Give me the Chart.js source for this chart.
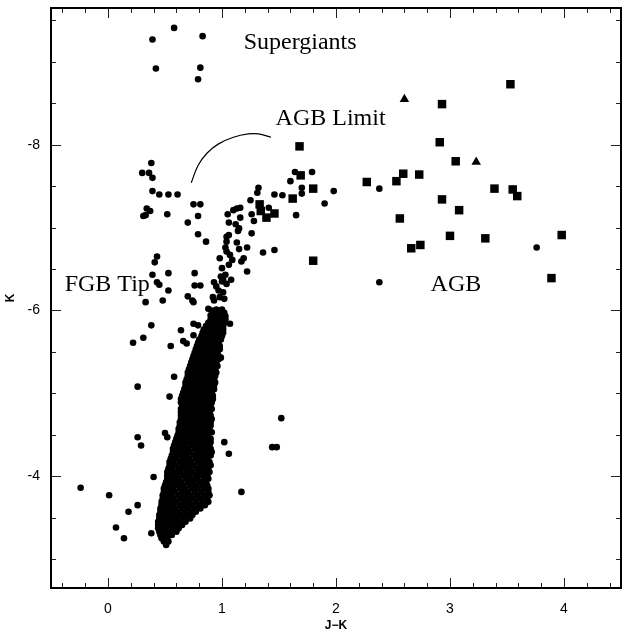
<!DOCTYPE html>
<html>
<head>
<meta charset="utf-8">
<script src="https://cdn.jsdelivr.net/npm/chart.js@4.4.1/dist/chart.umd.min.js"></script>
<style>
  body { margin: 0; background: #fff; }
  #wrap { width: 627px; height: 633px; }
</style>
</head>
<body>
<div id="wrap"><canvas id="cmd" width="627" height="633"></canvas></div>
<script>
// tick labels
const xTickValues = [0, 1, 2, 3, 4];
const yTickValues = [-8, -6, -4];

// dense red giant branch, read row by row: [K, [J-K values]]
const rgbRows = [
  [-3.21, [0.49, 0.53]],
  [-3.25, [0.47, 0.52]],
  [-3.29, [0.46, 0.51, 0.56]],
  [-3.33, [0.45, 0.50, 0.55, 0.60]],
  [-3.37, [0.44, 0.47, 0.52, 0.57, 0.62]],
  [-3.41, [0.44, 0.49, 0.54, 0.59, 0.65]],
  [-3.45, [0.44, 0.47, 0.52, 0.57, 0.62, 0.68]],
  [-3.49, [0.45, 0.50, 0.55, 0.60, 0.66, 0.72]],
  [-3.53, [0.45, 0.48, 0.53, 0.58, 0.63, 0.69, 0.74]],
  [-3.57, [0.46, 0.51, 0.56, 0.61, 0.67, 0.73, 0.77]],
  [-3.61, [0.46, 0.49, 0.54, 0.59, 0.65, 0.70, 0.76, 0.81]],
  [-3.65, [0.47, 0.52, 0.57, 0.63, 0.68, 0.74, 0.80, 0.85]],
  [-3.69, [0.47, 0.50, 0.55, 0.60, 0.66, 0.71, 0.77, 0.83, 0.88]],
  [-3.73, [0.48, 0.53, 0.58, 0.64, 0.69, 0.75, 0.81, 0.87]],
  [-3.77, [0.48, 0.51, 0.56, 0.62, 0.67, 0.72, 0.78, 0.84, 0.89]],
  [-3.81, [0.49, 0.54, 0.59, 0.65, 0.70, 0.76, 0.82, 0.88]],
  [-3.85, [0.49, 0.52, 0.57, 0.63, 0.68, 0.74, 0.79, 0.85, 0.88]],
  [-3.89, [0.50, 0.55, 0.61, 0.66, 0.72, 0.77, 0.83, 0.87]],
  [-3.93, [0.51, 0.54, 0.59, 0.64, 0.70, 0.75, 0.81, 0.86]],
  [-3.97, [0.52, 0.57, 0.62, 0.68, 0.73, 0.78, 0.84, 0.88]],
  [-4.01, [0.52, 0.55, 0.60, 0.66, 0.71, 0.77, 0.82, 0.87]],
  [-4.05, [0.52, 0.58, 0.63, 0.69, 0.74, 0.80, 0.85, 0.89]],
  [-4.09, [0.53, 0.56, 0.62, 0.67, 0.72, 0.78, 0.83, 0.88]],
  [-4.13, [0.54, 0.59, 0.65, 0.70, 0.75, 0.81, 0.86, 0.90]],
  [-4.17, [0.54, 0.57, 0.63, 0.68, 0.73, 0.79, 0.84, 0.89]],
  [-4.21, [0.55, 0.60, 0.66, 0.71, 0.77, 0.82, 0.87]],
  [-4.25, [0.56, 0.59, 0.64, 0.69, 0.75, 0.80, 0.85, 0.90]],
  [-4.29, [0.57, 0.62, 0.67, 0.72, 0.78, 0.83, 0.88, 0.91]],
  [-4.33, [0.57, 0.60, 0.65, 0.70, 0.76, 0.81, 0.86, 0.90]],
  [-4.37, [0.58, 0.63, 0.68, 0.74, 0.79, 0.84, 0.89]],
  [-4.41, [0.59, 0.62, 0.67, 0.72, 0.77, 0.82, 0.87, 0.90]],
  [-4.45, [0.60, 0.65, 0.70, 0.75, 0.80, 0.85, 0.90]],
  [-4.49, [0.61, 0.64, 0.69, 0.74, 0.79, 0.84, 0.88]],
  [-4.53, [0.62, 0.66, 0.71, 0.76, 0.81, 0.86, 0.91]],
  [-4.57, [0.62, 0.65, 0.70, 0.75, 0.80, 0.85, 0.89]],
  [-4.61, [0.63, 0.67, 0.72, 0.77, 0.82, 0.87, 0.90]],
  [-4.65, [0.63, 0.66, 0.71, 0.76, 0.81, 0.86, 0.90]],
  [-4.69, [0.64, 0.68, 0.73, 0.78, 0.83, 0.88, 0.91]],
  [-4.73, [0.64, 0.67, 0.72, 0.77, 0.82, 0.87, 0.90]],
  [-4.77, [0.64, 0.69, 0.74, 0.79, 0.84, 0.89]],
  [-4.81, [0.64, 0.67, 0.72, 0.77, 0.82, 0.87, 0.91]],
  [-4.85, [0.65, 0.70, 0.75, 0.80, 0.85, 0.90]],
  [-4.89, [0.64, 0.67, 0.72, 0.77, 0.82, 0.87, 0.91]],
  [-4.93, [0.64, 0.69, 0.74, 0.79, 0.84, 0.89, 0.92]],
  [-4.97, [0.65, 0.68, 0.73, 0.78, 0.83, 0.88, 0.92]],
  [-5.01, [0.66, 0.71, 0.76, 0.81, 0.86, 0.91]],
  [-5.05, [0.67, 0.70, 0.75, 0.80, 0.85, 0.90, 0.93]],
  [-5.09, [0.68, 0.73, 0.78, 0.83, 0.88, 0.93]],
  [-5.13, [0.68, 0.71, 0.76, 0.81, 0.86, 0.91, 0.94]],
  [-5.17, [0.69, 0.74, 0.79, 0.84, 0.89, 0.93]],
  [-5.21, [0.70, 0.72, 0.77, 0.82, 0.87, 0.92, 0.94]],
  [-5.25, [0.70, 0.75, 0.80, 0.85, 0.90, 0.95]],
  [-5.29, [0.71, 0.74, 0.79, 0.84, 0.89, 0.94]],
  [-5.33, [0.72, 0.77, 0.82, 0.87, 0.92, 0.96]],
  [-5.37, [0.73, 0.76, 0.81, 0.86, 0.91, 0.95]],
  [-5.41, [0.74, 0.79, 0.84, 0.89, 0.94, 0.97]],
  [-5.45, [0.75, 0.78, 0.83, 0.88, 0.93, 0.97]],
  [-5.49, [0.76, 0.81, 0.86, 0.91, 0.96]],
  [-5.53, [0.77, 0.80, 0.85, 0.90, 0.95, 0.98]],
  [-5.57, [0.78, 0.83, 0.88, 0.93, 0.98]],
  [-5.61, [0.79, 0.82, 0.87, 0.92, 0.97]],
  [-5.65, [0.80, 0.85, 0.90, 0.95, 0.99]],
  [-5.69, [0.82, 0.85, 0.90, 0.95, 1.00]],
  [-5.73, [0.83, 0.88, 0.93, 0.98, 1.01]],
  [-5.77, [0.84, 0.88, 0.93, 0.98, 1.01]],
  [-5.81, [0.86, 0.91, 0.96, 1.01]],
  [-5.85, [0.88, 0.93, 0.98, 1.02]],
  [-5.89, [0.90, 0.95, 1.00, 1.03]],
  [-5.93, [0.91, 0.96, 1.00, 1.03]],
  [-5.97, [0.93, 0.98, 1.02]],
  [-6.01, [0.95, 1.00]]
];

// individual stars (dots): [J-K, K]
const dotStars = [
  [0.58, -9.41], [0.39, -9.27], [0.83, -9.31], [0.42, -8.92], [0.81, -8.93], [0.79, -8.79],
  [0.38, -7.78], [0.30, -7.66], [0.36, -7.66], [0.39, -7.60], [0.39, -7.44], [0.45, -7.40],
  [0.53, -7.40], [0.61, -7.40], [0.34, -7.23], [0.37, -7.20], [0.31, -7.14], [0.33, -7.15],
  [0.52, -7.16], [0.75, -7.28], [0.81, -7.28], [0.79, -7.14], [0.70, -7.06], [0.79, -6.92],
  [0.86, -6.83], [0.76, -6.45], [0.76, -6.30], [0.81, -6.30], [0.70, -6.17], [0.74, -6.12],
  [0.75, -6.10], [0.43, -6.65], [0.41, -6.58], [0.39, -6.43], [0.53, -6.45], [0.43, -6.34],
  [0.45, -6.31], [0.53, -6.24], [0.33, -6.10], [0.48, -6.12],
  [0.38, -5.82], [0.31, -5.67], [0.22, -5.61], [0.55, -5.57], [0.64, -5.76], [0.75, -5.84],
  [0.79, -5.82], [0.75, -5.70], [0.66, -5.63], [0.69, -5.60], [0.58, -5.20], [0.54, -4.96],
  [0.26, -5.08], [0.26, -4.47], [0.29, -4.37], [0.50, -4.52], [0.52, -4.47], [0.40, -3.99],
  [-0.24, -3.86], [0.01, -3.77], [0.18, -3.57], [0.26, -3.65], [0.07, -3.38], [0.14, -3.25],
  [0.38, -3.31], [0.51, -3.17],
  [1.07, -5.84], [0.99, -5.43], [1.52, -4.70], [1.44, -4.35], [1.48, -4.35], [1.02, -4.41],
  [1.06, -4.27], [1.17, -3.81],
  [0.88, -6.02], [0.91, -6.00], [0.90, -5.94], [0.97, -5.92], [1.00, -5.92],
  [0.97, -6.24], [1.01, -6.22], [0.98, -6.16], [1.02, -6.14], [0.92, -6.16], [0.93, -6.12],
  [0.93, -6.34], [0.95, -6.29], [1.04, -6.32], [0.99, -6.41], [1.00, -6.35], [1.08, -6.37],
  [1.03, -6.43], [1.01, -6.37], [1.00, -6.51], [1.22, -6.47],
  [1.07, -6.67], [1.09, -6.61], [1.06, -6.55], [1.19, -6.63], [1.17, -6.59], [0.98, -6.63],
  [1.04, -6.71], [1.36, -6.70], [1.46, -6.73],
  [1.03, -6.76], [1.15, -6.74], [1.22, -6.76], [1.13, -6.82], [1.04, -6.83], [1.04, -6.89],
  [1.06, -6.91], [1.26, -6.93], [1.14, -6.96], [1.15, -6.99], [1.12, -7.04], [1.06, -7.06],
  [1.28, -7.08], [1.16, -7.12], [1.26, -7.16], [1.05, -7.16], [1.10, -7.21], [1.13, -7.23],
  [1.16, -7.24], [1.41, -7.24], [1.25, -7.33], [1.46, -7.40], [1.53, -7.39], [1.31, -7.42],
  [1.32, -7.48], [1.65, -7.15], [1.60, -7.56], [1.64, -7.67], [1.79, -7.67], [1.70, -7.48],
  [1.70, -7.41], [1.98, -7.44], [1.90, -7.29], [2.38, -7.47], [3.76, -6.76], [2.38, -6.34]
];

// AGB stars (filled squares)
const agbSquares = [
  [3.53, -8.73], [2.93, -8.49], [2.91, -8.03], [3.05, -7.80], [1.68, -7.98], [2.59, -7.65],
  [2.73, -7.64], [2.53, -7.56], [2.27, -7.55], [1.69, -7.63], [1.80, -7.47], [3.39, -7.47],
  [3.55, -7.46], [3.59, -7.38], [2.93, -7.34], [3.08, -7.21], [2.56, -7.11], [3.00, -6.90],
  [3.31, -6.87], [3.98, -6.91], [2.74, -6.79], [2.66, -6.75], [1.80, -6.60], [3.89, -6.39],
  [1.62, -7.35], [1.33, -7.28], [1.34, -7.20], [1.39, -7.12], [1.46, -7.17]
];

// triangles
const triStars = [[2.60, -8.55], [3.23, -7.79]];

// AGB limit curve
const limitCurve = [
  [0.73, -7.54], [0.79, -7.75], [0.87, -7.90], [0.97, -8.01], [1.10, -8.09],
  [1.23, -8.13], [1.32, -8.13], [1.43, -8.09]
];

const toXY = p => ({ x: p[0], y: p[1] });
const rgbPoints = [];
rgbRows.forEach(function(row) {
  row[1].forEach(function(jk) { rgbPoints.push({ x: jk, y: row[0] }); });
});

// text labels on the diagram
const notes = [
  { text: 'Supergiants', x: 1.19, y: -9.16 },
  { text: 'AGB Limit', x: 1.47, y: -8.24 },
  { text: 'FGB Tip', x: -0.38, y: -6.24 },
  { text: 'AGB', x: 2.83, y: -6.24 }
];

// frame with inward ticks on all four sides, plus labels
const framePlugin = {
  id: 'frame',
  afterDatasetsDraw(chart) {
    const ctx = chart.ctx;
    const x = chart.scales.x, y = chart.scales.y;
    ctx.save();
    ctx.fillStyle = '#000';
    ctx.font = '24px "Liberation Serif"';
    ctx.textAlign = 'left';
    ctx.textBaseline = 'alphabetic';
    notes.forEach(function(n) {
      ctx.fillText(n.text, x.getPixelForValue(n.x), y.getPixelForValue(n.y));
    });
    ctx.restore();
  },
  afterDraw(chart) {
    const ctx = chart.ctx;
    const a = chart.chartArea;
    const x = chart.scales.x, y = chart.scales.y;
    ctx.save();
    ctx.strokeStyle = '#222';
    ctx.lineWidth = 1;
    ctx.beginPath();
    for (let i = -2; i <= 22; i++) {
      const px = Math.round(x.getPixelForValue(i * 0.2)) + 0.5;
      const len = (i % 5 === 0) ? 10 : 5;
      ctx.moveTo(px, a.bottom); ctx.lineTo(px, a.bottom - len);
      ctx.moveTo(px, a.top); ctx.lineTo(px, a.top + len);
    }
    for (let j = -19; j <= -6; j++) {
      const v = j * 0.5;
      const py = Math.round(y.getPixelForValue(v)) + 0.5;
      const len = yTickValues.indexOf(v) >= 0 ? 10 : 5;
      ctx.moveTo(a.left, py); ctx.lineTo(a.left + len, py);
      ctx.moveTo(a.right, py); ctx.lineTo(a.right - len, py);
    }
    ctx.stroke();
    ctx.strokeStyle = '#000';
    ctx.lineWidth = 2;
    ctx.strokeRect(a.left, a.top, a.right - a.left, a.bottom - a.top);
    ctx.restore();
  }
};

const ctx = document.getElementById('cmd').getContext('2d');
const tickFont = { family: 'Liberation Sans', size: 14 };

const chart = new Chart(ctx, {
  type: 'scatter',
  data: {
    datasets: [
      { label: 'RGB', data: rgbPoints, pointStyle: 'circle', pointRadius: 3.3,
        pointBackgroundColor: '#000', pointBorderWidth: 0 },
      { label: 'Stars', data: dotStars.map(toXY), pointStyle: 'circle', pointRadius: 3.3,
        pointBackgroundColor: '#000', pointBorderWidth: 0 },
      { label: 'AGB', data: agbSquares.map(toXY), pointStyle: 'rect', pointRadius: 6,
        pointBackgroundColor: '#000', pointBorderWidth: 0 },
      { label: 'Tri', data: triStars.map(toXY), pointStyle: 'triangle', pointRadius: 5.5,
        pointBackgroundColor: '#000', pointBorderWidth: 0 },
      { type: 'line', label: 'AGB Limit', data: limitCurve.map(toXY), showLine: true,
        pointRadius: 0, borderColor: '#000', borderWidth: 1.2, tension: 0.4, fill: false }
    ]
  },
  options: {
    responsive: false,
    animation: false,
    events: [],
    // Chart.js keeps 5px on the right here, so pull it back to get the frame at x=624
    layout: { padding: { top: 8, right: -2, left: 0, bottom: 0 } },
    plugins: { legend: { display: false }, tooltip: { enabled: false } },
    scales: {
      x: {
        type: 'linear', min: -0.5, max: 4.5,
        grid: { display: false, drawTicks: false },
        border: { display: false },
        afterBuildTicks: s => { s.ticks = xTickValues.map(v => ({ value: v })); },
        afterFit: s => { s.height = 45; s.paddingLeft = 0; s.paddingRight = 0; },
        ticks: { padding: 13, font: tickFont, color: '#000', maxRotation: 0, autoSkip: false,
                 callback: v => String(v) },
        title: { display: true, text: 'J\u2212K', color: '#000',
                 font: { family: 'Liberation Sans', size: 12, weight: 'bold' },
                 padding: { top: 0, bottom: 0 } }
      },
      y: {
        type: 'linear', min: -9.65, max: -2.65, reverse: true,
        grid: { display: false, drawTicks: false },
        border: { display: false },
        afterBuildTicks: s => { s.ticks = yTickValues.map(v => ({ value: v })); },
        afterFit: s => { s.width = 51; s.paddingTop = 0; s.paddingBottom = 0; },
        ticks: { padding: 11, font: tickFont, color: '#000', autoSkip: false,
                 callback: v => String(v) },
        title: { display: true, text: 'K', color: '#000',
                 font: { family: 'Liberation Sans', size: 12, weight: 'bold' },
                 padding: { top: 3, bottom: 0 } }
      }
    }
  },
  plugins: [framePlugin]
});
</script>
</body>
</html>
